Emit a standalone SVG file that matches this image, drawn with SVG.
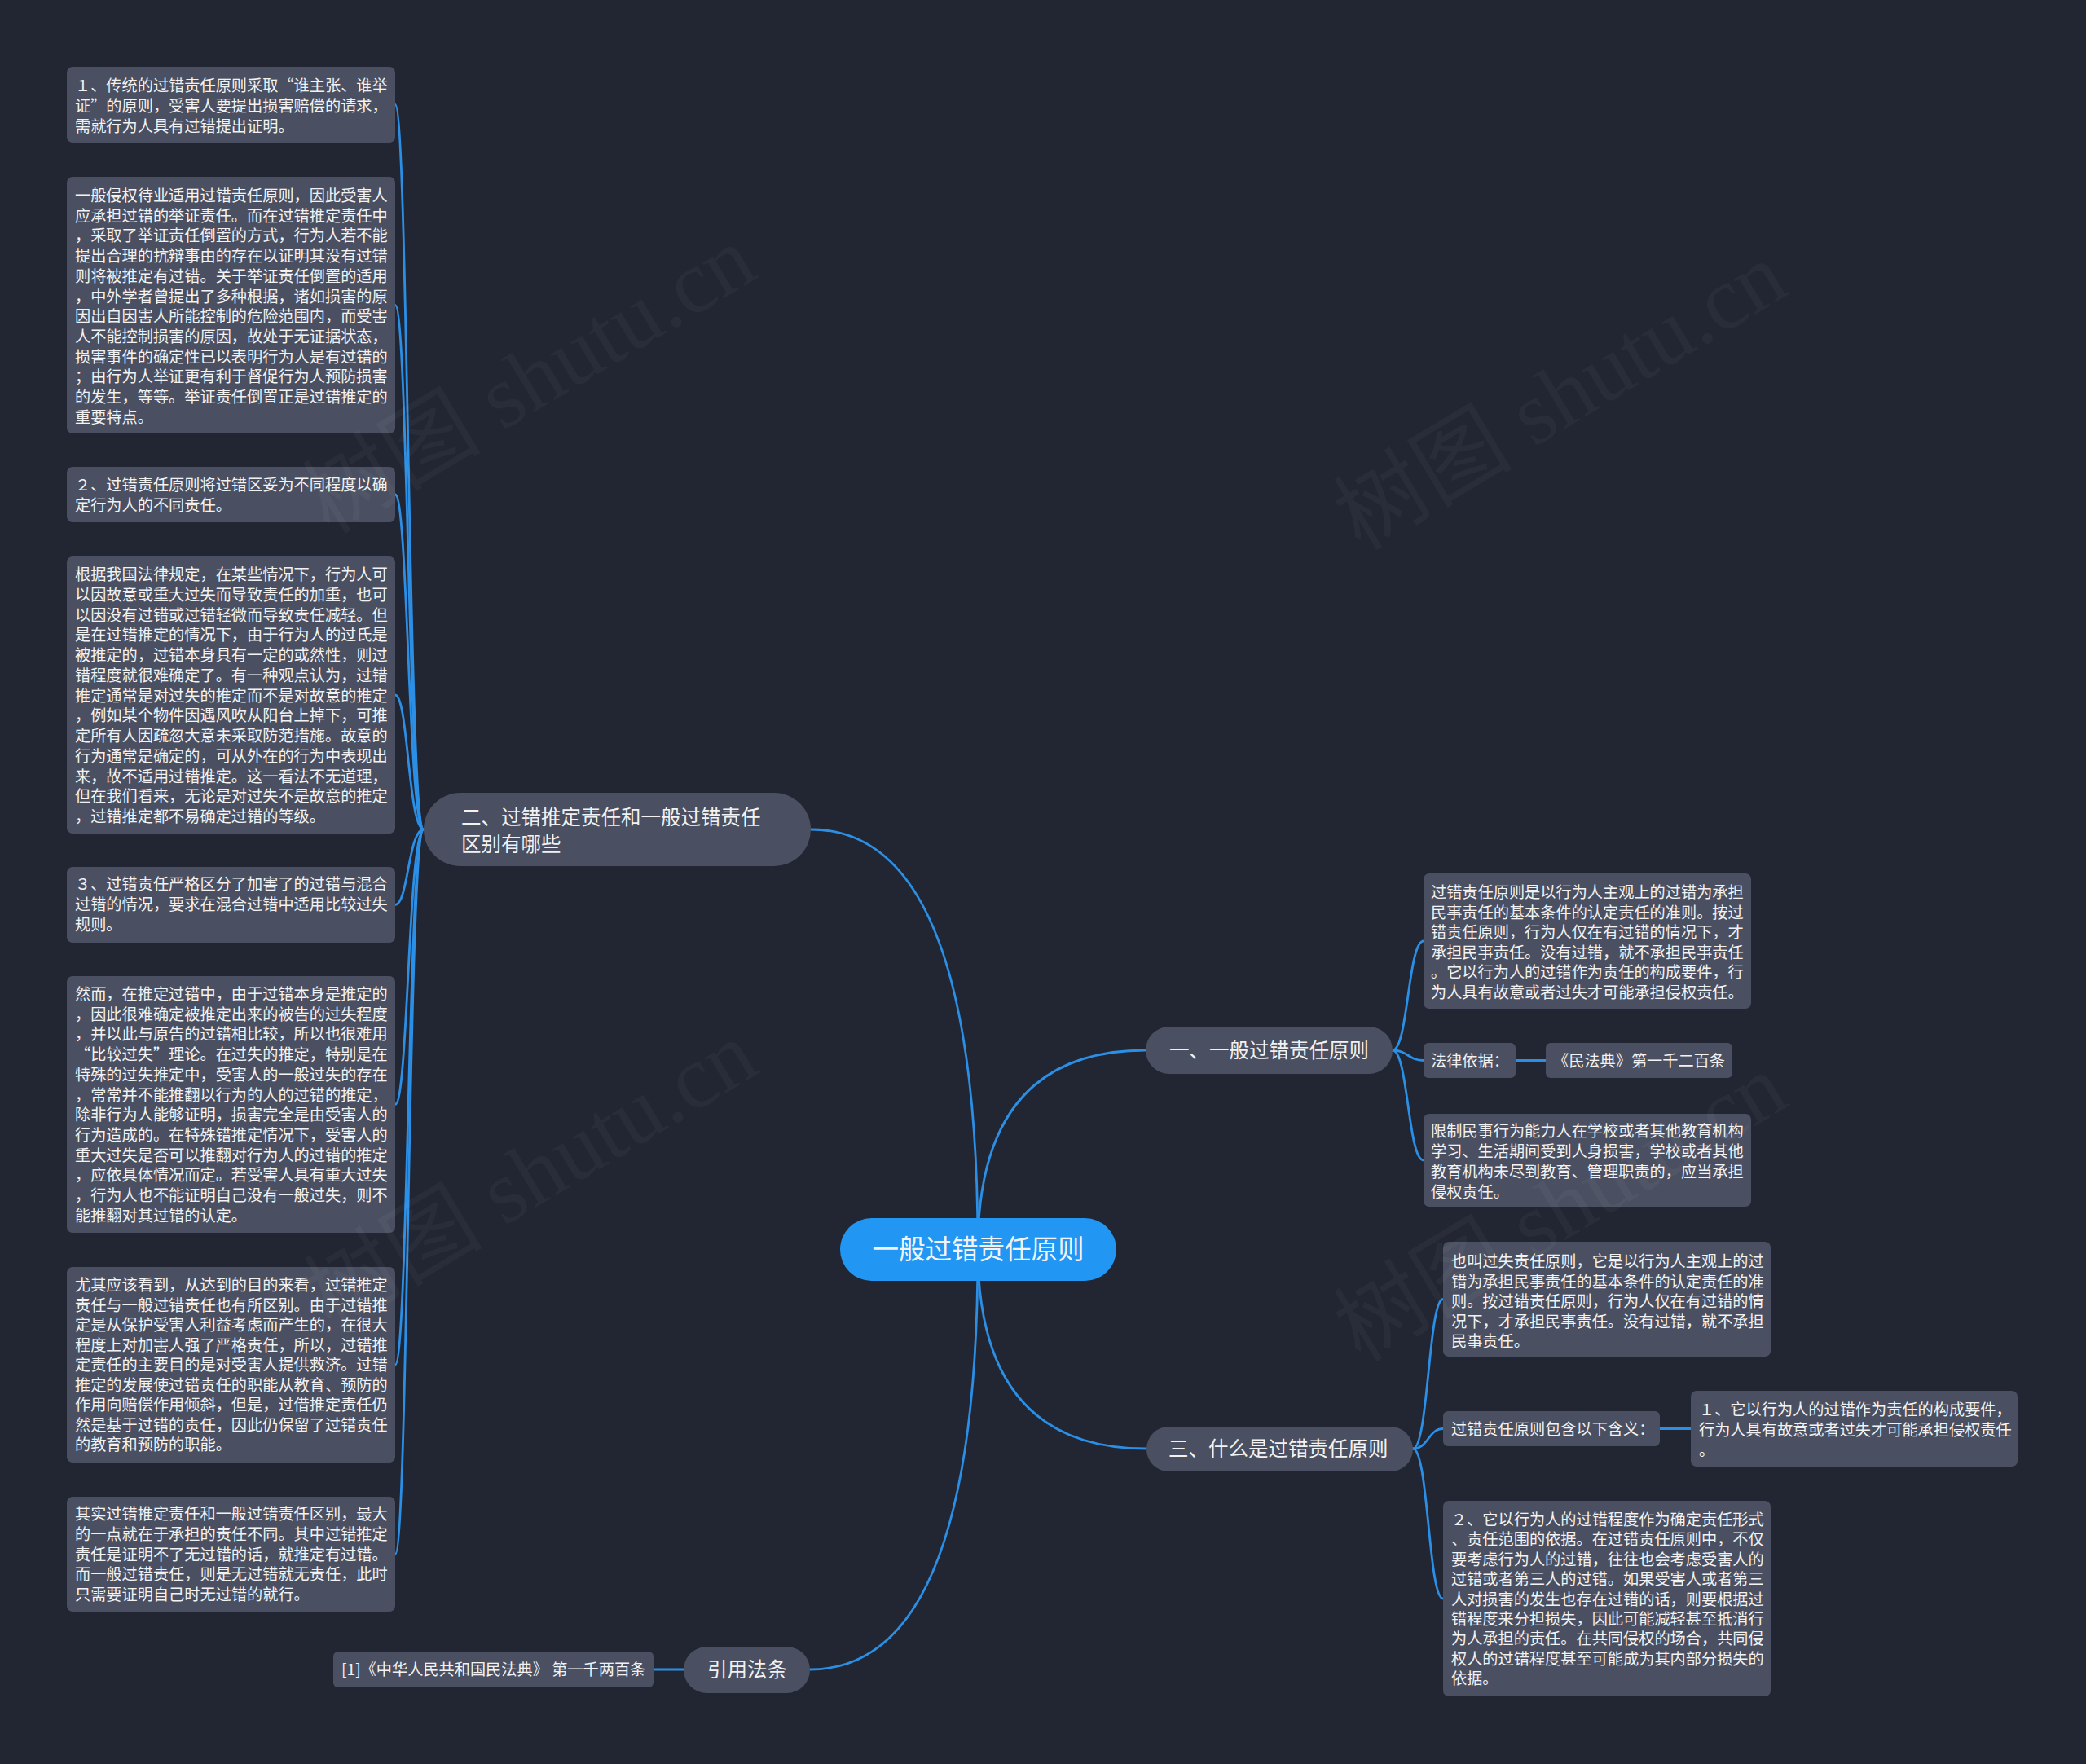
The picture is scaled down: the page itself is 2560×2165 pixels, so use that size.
<svg xmlns="http://www.w3.org/2000/svg" width="2560" height="2165" viewBox="0 0 2560 2165">
<style>
.leaf{fill:#4a5061}
.main{fill:#4a5061}
.root{fill:#2196f3}
.t{font-family:"Noto Sans CJK SC","Noto Sans",sans-serif;fill:#f2f2f2}
.s{font-size:19.2px}
.m{font-size:24.5px}
.r{font-size:32.5px}
.c{fill:none;stroke:#2b8fe6;stroke-width:2.8;stroke-linecap:round}
.wm{font-family:"Liberation Serif","Noto Sans CJK SC",serif;font-size:110px;fill:#ffffff;fill-opacity:0.035}
</style>
<rect x="0" y="0" width="2560" height="2165" fill="#222632"/>

<g id="connectors">
  <path class="c" d="M995 1018 Q1200 1018 1200 1533"/>
  <path class="c" d="M1406 1289 Q1200 1289 1200 1533"/>
  <path class="c" d="M1407 1778 Q1200 1778 1200 1533"/>
  <path class="c" d="M994 2049 Q1200 2049 1200 1533"/>
  <path class="c" d="M485 128.5 C501 128.5 501 1018 520 1018"/>
  <path class="c" d="M485 374.5 C501 374.5 501 1018 520 1018"/>
  <path class="c" d="M485 607 C501 607 501 1018 520 1018"/>
  <path class="c" d="M485 853 C501 853 501 1018 520 1018"/>
  <path class="c" d="M485 1110.5 C501 1110.5 501 1018 520 1018"/>
  <path class="c" d="M485 1355.5 C501 1355.5 501 1018 520 1018"/>
  <path class="c" d="M485 1675 C501 1675 501 1018 520 1018"/>
  <path class="c" d="M485 1907.5 C501 1907.5 501 1018 520 1018"/>
  <path class="c" d="M1709 1289 C1728 1289 1728 1155 1747 1155"/>
  <path class="c" d="M1709 1289 C1728 1289 1728 1301.5 1747 1301.5"/>
  <path class="c" d="M1709 1289 C1728 1289 1728 1424 1747 1424"/>
  <path class="c" d="M1860 1301.5 L1897 1301.5"/>
  <path class="c" d="M1734 1778 C1753 1778 1753 1594.5 1771 1594.5"/>
  <path class="c" d="M1734 1778 C1753 1778 1753 1753.5 1771 1753.5"/>
  <path class="c" d="M1734 1778 C1753 1778 1753 1962 1771 1962"/>
  <path class="c" d="M2037 1753.5 L2075 1753.5"/>
  <path class="c" d="M839 2049 L802 2049"/>
</g>

<g id="root">
  <rect class="root" x="1031" y="1495" width="339" height="77" rx="38.5"/>
  <text class="t r" x="1200.5" y="1545" text-anchor="middle">一般过错责任原则</text>
</g>

<g id="n2">
  <rect class="main" x="520" y="973" width="475" height="90" rx="45"/>
  <text class="t m"><tspan x="566" y="1012">二、过错推定责任和一般过错责任</tspan><tspan x="566" y="1045">区别有哪些</tspan></text>
</g>

<g id="n1">
  <rect class="main" x="1406" y="1260" width="303" height="58" rx="29"/>
  <text class="t m" x="1435" y="1298">一、一般过错责任原则</text>
</g>

<g id="n3">
  <rect class="main" x="1407" y="1751" width="327" height="55" rx="27.5"/>
  <text class="t m" x="1434" y="1787">三、什么是过错责任原则</text>
</g>

<g id="n4">
  <rect class="main" x="839" y="2021" width="155" height="57" rx="28.5"/>
  <text class="t m" x="868" y="2058">引用法条</text>
</g>

<g id="L1">
  <rect class="leaf" x="82" y="82" width="403" height="93" rx="7"/>
  <text class="t s"><tspan x="92" y="112">１、传统的过错责任原则采取“谁主张、谁举</tspan><tspan x="92" y="137">证”的原则，受害人要提出损害赔偿的请求，</tspan><tspan x="92" y="162">需就行为人具有过错提出证明。</tspan></text>
</g>

<g id="L2">
  <rect class="leaf" x="82" y="217" width="403" height="315" rx="7"/>
  <text class="t s"><tspan x="92" y="247">一般侵权待业适用过错责任原则，因此受害人</tspan><tspan x="92" y="271.7">应承担过错的举证责任。而在过错推定责任中</tspan><tspan x="92" y="296.4">，采取了举证责任倒置的方式，行为人若不能</tspan><tspan x="92" y="321.1">提出合理的抗辩事由的存在以证明其没有过错</tspan><tspan x="92" y="345.8">则将被推定有过错。关于举证责任倒置的适用</tspan><tspan x="92" y="370.5">，中外学者曾提出了多种根据，诸如损害的原</tspan><tspan x="92" y="395.2">因出自因害人所能控制的危险范围内，而受害</tspan><tspan x="92" y="419.9">人不能控制损害的原因，故处于无证据状态，</tspan><tspan x="92" y="444.6">损害事件的确定性已以表明行为人是有过错的</tspan><tspan x="92" y="469.3">；由行为人举证更有利于督促行为人预防损害</tspan><tspan x="92" y="494">的发生，等等。举证责任倒置正是过错推定的</tspan><tspan x="92" y="518.7">重要特点。</tspan></text>
</g>

<g id="L3">
  <rect class="leaf" x="82" y="573" width="403" height="68" rx="7"/>
  <text class="t s"><tspan x="92" y="602">２、过错责任原则将过错区妥为不同程度以确</tspan><tspan x="92" y="627">定行为人的不同责任。</tspan></text>
</g>

<g id="L4">
  <rect class="leaf" x="82" y="683" width="403" height="340" rx="7"/>
  <text class="t s"><tspan x="92" y="712">根据我国法律规定，在某些情况下，行为人可</tspan><tspan x="92" y="736.75">以因故意或重大过失而导致责任的加重，也可</tspan><tspan x="92" y="761.5">以因没有过错或过错轻微而导致责任减轻。但</tspan><tspan x="92" y="786.25">是在过错推定的情况下，由于行为人的过氏是</tspan><tspan x="92" y="811">被推定的，过错本身具有一定的或然性，则过</tspan><tspan x="92" y="835.75">错程度就很难确定了。有一种观点认为，过错</tspan><tspan x="92" y="860.5">推定通常是对过失的推定而不是对故意的推定</tspan><tspan x="92" y="885.25">，例如某个物件因遇风吹从阳台上掉下，可推</tspan><tspan x="92" y="910">定所有人因疏忽大意未采取防范措施。故意的</tspan><tspan x="92" y="934.75">行为通常是确定的，可从外在的行为中表现出</tspan><tspan x="92" y="959.5">来，故不适用过错推定。这一看法不无道理，</tspan><tspan x="92" y="984.25">但在我们看来，无论是对过失不是故意的推定</tspan><tspan x="92" y="1009">，过错推定都不易确定过错的等级。</tspan></text>
</g>

<g id="L5">
  <rect class="leaf" x="82" y="1064" width="403" height="93" rx="7"/>
  <text class="t s"><tspan x="92" y="1092">３、过错责任严格区分了加害了的过错与混合</tspan><tspan x="92" y="1117">过错的情况，要求在混合过错中适用比较过失</tspan><tspan x="92" y="1142">规则。</tspan></text>
</g>

<g id="L6">
  <rect class="leaf" x="82" y="1198" width="403" height="315" rx="7"/>
  <text class="t s"><tspan x="92" y="1227">然而，在推定过错中，由于过错本身是推定的</tspan><tspan x="92" y="1251.7">，因此很难确定被推定出来的被告的过失程度</tspan><tspan x="92" y="1276.4">，并以此与原告的过错相比较，所以也很难用</tspan><tspan x="92" y="1301.1">“比较过失”理论。在过失的推定，特别是在</tspan><tspan x="92" y="1325.8">特殊的过失推定中，受害人的一般过失的存在</tspan><tspan x="92" y="1350.5">，常常并不能推翻以行为的人的过错的推定，</tspan><tspan x="92" y="1375.2">除非行为人能够证明，损害完全是由受害人的</tspan><tspan x="92" y="1399.9">行为造成的。在特殊错推定情况下，受害人的</tspan><tspan x="92" y="1424.6">重大过失是否可以推翻对行为人的过错的推定</tspan><tspan x="92" y="1449.3">，应依具体情况而定。若受害人具有重大过失</tspan><tspan x="92" y="1474">，行为人也不能证明自己没有一般过失，则不</tspan><tspan x="92" y="1498.7">能推翻对其过错的认定。</tspan></text>
</g>

<g id="L7">
  <rect class="leaf" x="82" y="1555" width="403" height="240" rx="7"/>
  <text class="t s"><tspan x="92" y="1584">尤其应该看到，从达到的目的来看，过错推定</tspan><tspan x="92" y="1608.5">责任与一般过错责任也有所区别。由于过错推</tspan><tspan x="92" y="1633">定是从保护受害人利益考虑而产生的，在很大</tspan><tspan x="92" y="1657.5">程度上对加害人强了严格责任，所以，过错推</tspan><tspan x="92" y="1682">定责任的主要目的是对受害人提供救济。过错</tspan><tspan x="92" y="1706.5">推定的发展使过错责任的职能从教育、预防的</tspan><tspan x="92" y="1731">作用向赔偿作用倾斜，但是，过借推定责任仍</tspan><tspan x="92" y="1755.5">然是基于过错的责任，因此仍保留了过错责任</tspan><tspan x="92" y="1780">的教育和预防的职能。</tspan></text>
</g>

<g id="L8">
  <rect class="leaf" x="82" y="1837" width="403" height="141" rx="7"/>
  <text class="t s"><tspan x="92" y="1865">其实过错推定责任和一般过错责任区别，最大</tspan><tspan x="92" y="1889.75">的一点就在于承担的责任不同。其中过错推定</tspan><tspan x="92" y="1914.5">责任是证明不了无过错的话，就推定有过错。</tspan><tspan x="92" y="1939.25">而一般过错责任，则是无过错就无责任，此时</tspan><tspan x="92" y="1964">只需要证明自己时无过错的就行。</tspan></text>
</g>

<g id="R1">
  <rect class="leaf" x="1747" y="1072" width="402" height="166" rx="7"/>
  <text class="t s"><tspan x="1756" y="1102">过错责任原则是以行为人主观上的过错为承担</tspan><tspan x="1756" y="1126.6">民事责任的基本条件的认定责任的准则。按过</tspan><tspan x="1756" y="1151.2">错责任原则，行为人仅在有过错的情况下，才</tspan><tspan x="1756" y="1175.8">承担民事责任。没有过错，就不承担民事责任</tspan><tspan x="1756" y="1200.4">。它以行为人的过错作为责任的构成要件，行</tspan><tspan x="1756" y="1225">为人具有故意或者过失才可能承担侵权责任。</tspan></text>
</g>

<g id="R2">
  <rect class="leaf" x="1747" y="1280" width="113" height="43" rx="6"/>
  <text class="t s" x="1756" y="1309">法律依据：</text>
</g>

<g id="R2b">
  <rect class="leaf" x="1897" y="1280" width="229" height="43" rx="6"/>
  <text class="t s" x="1906" y="1309">《民法典》第一千二百条</text>
</g>

<g id="R3">
  <rect class="leaf" x="1747" y="1367" width="402" height="114" rx="7"/>
  <text class="t s"><tspan x="1756" y="1395">限制民事行为能力人在学校或者其他教育机构</tspan><tspan x="1756" y="1420">学习、生活期间受到人身损害，学校或者其他</tspan><tspan x="1756" y="1445">教育机构未尽到教育、管理职责的，应当承担</tspan><tspan x="1756" y="1470">侵权责任。</tspan></text>
</g>

<g id="R4">
  <rect class="leaf" x="1771" y="1524" width="402" height="141" rx="7"/>
  <text class="t s"><tspan x="1781" y="1555">也叫过失责任原则，它是以行为人主观上的过</tspan><tspan x="1781" y="1579.5">错为承担民事责任的基本条件的认定责任的准</tspan><tspan x="1781" y="1604">则。按过错责任原则，行为人仅在有过错的情</tspan><tspan x="1781" y="1628.5">况下，才承担民事责任。没有过错，就不承担</tspan><tspan x="1781" y="1653">民事责任。</tspan></text>
</g>

<g id="R5">
  <rect class="leaf" x="1771" y="1732" width="266" height="43" rx="6"/>
  <text class="t s" x="1781" y="1761">过错责任原则包含以下含义：</text>
</g>

<g id="R5b">
  <rect class="leaf" x="2075" y="1707" width="401" height="93" rx="7"/>
  <text class="t s"><tspan x="2085" y="1737">１、它以行为人的过错作为责任的构成要件，</tspan><tspan x="2085" y="1762">行为人具有故意或者过失才可能承担侵权责任</tspan><tspan x="2085" y="1787">。</tspan></text>
</g>

<g id="R6">
  <rect class="leaf" x="1771" y="1842" width="402" height="240" rx="7"/>
  <text class="t s"><tspan x="1781" y="1872">２、它以行为人的过错程度作为确定责任形式</tspan><tspan x="1781" y="1896.4">、责任范围的依据。在过错责任原则中，不仅</tspan><tspan x="1781" y="1920.8">要考虑行为人的过错，往往也会考虑受害人的</tspan><tspan x="1781" y="1945.2">过错或者第三人的过错。如果受害人或者第三</tspan><tspan x="1781" y="1969.6">人对损害的发生也存在过错的话，则要根据过</tspan><tspan x="1781" y="1994">错程度来分担损失，因此可能减轻甚至抵消行</tspan><tspan x="1781" y="2018.4">为人承担的责任。在共同侵权的场合，共同侵</tspan><tspan x="1781" y="2042.8">权人的过错程度甚至可能成为其内部分损失的</tspan><tspan x="1781" y="2067.2">依据。</tspan></text>
</g>

<g id="ref">
  <rect class="leaf" x="409" y="2027" width="393" height="44" rx="6"/>
  <text class="t s" x="419" y="2056">[1]《中华人民共和国民法典》 第一千两百条</text>
</g>

<g id="watermarks">
  <text class="wm" x="661" y="500" text-anchor="middle" transform="rotate(-31 661 485)">树图 shutu.cn</text>
  <text class="wm" x="1927" y="520" text-anchor="middle" transform="rotate(-31 1927 506)">树图 shutu.cn</text>
  <text class="wm" x="663" y="1476" text-anchor="middle" transform="rotate(-31 663 1461)">树图 shutu.cn</text>
  <text class="wm" x="1927" y="1516" text-anchor="middle" transform="rotate(-31 1927 1502)">树图 shutu.cn</text>
</g>
</svg>
